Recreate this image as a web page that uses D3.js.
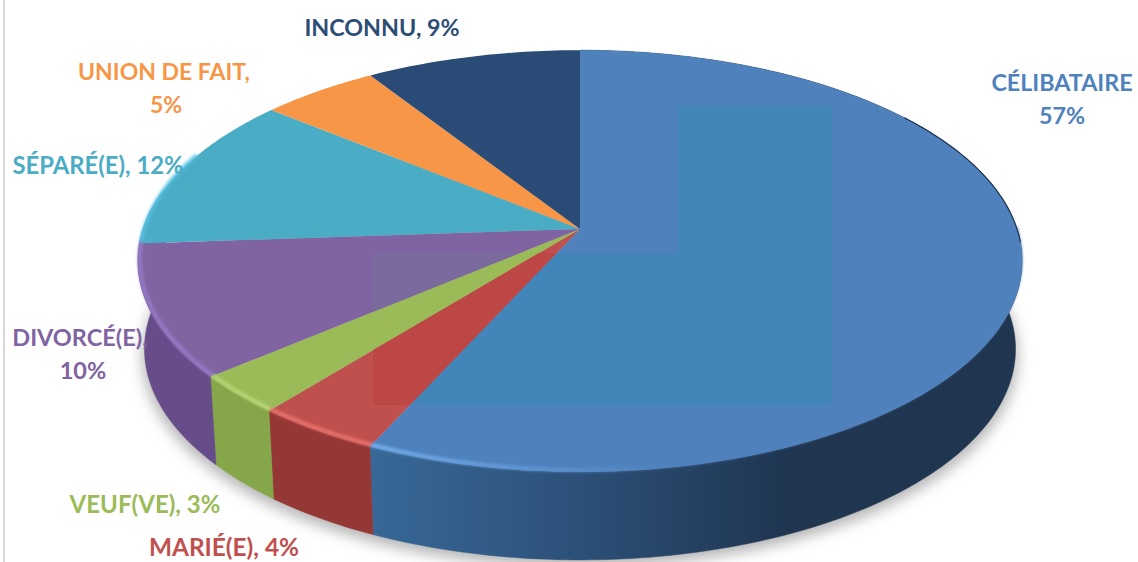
<!DOCTYPE html>
<html>
<head>
<meta charset="utf-8">
<script src="https://cdn.jsdelivr.net/npm/d3@7"></script>
<style>
  html, body { margin: 0; background: #fff; }
  svg { display: block; }
  text { font-family: Lato, "Open Sans", sans-serif; font-weight: 700; font-size: 23.5px; }
</style>
</head>
<body>
<div id="chart"></div>
<script>
// shares, clockwise from 12 o'clock (labels print them rounded)
var categories = ["CÉLIBATAIRE", "MARIÉ(E)", "VEUF(VE)", "DIVORCÉ(E)", "SÉPARÉ(E)", "UNION DE FAIT", "INCONNU"];
var shares = [56.8, 4.0, 3.0, 10.1, 12.0, 5.0, 9.1];

var topColors = ["#4f81bd", "#c0504d", "#9bbb59", "#8064a2", "#4bacc6", "#f79646", "#2a4b76"];
var sideColors = ["#2f5a8c", "#953735", "#86a64a", "#664d8a", "#3a8ca3", "#c87530", "#203a5c"];
var lipColors = ["#6fa8ea", "#ee7470", "#b9d977", "#977ccb", "#52c0e0", "#ffa860", "#2a4b76"];
var labelColors = ["#4f81bd", "#c0504d", "#9bbb59", "#8064a2", "#4bacc6", "#f79646", "#2c4d75"];

var width = 1138, height = 562;

// label layout, one line per row
var labels = [
  {i: 0, x: 1062, y: 91, size: 23.3, lines: ["CÉLIBATAIRE", "57%"]},
  {i: 1, x: 224, y: 556, size: 24.4, lines: ["MARIÉ(E), 4%"]},
  {i: 2, x: 145, y: 513, size: 24, lines: ["VEUF(VE), 3%"]},
  {i: 3, x: 80, y: 346, size: 23.5, lines: ["DIVORCÉ(E),", "10%"]},
  {i: 4, x: 98, y: 174, size: 23.8, lines: ["SÉPARÉ(E), 12%"]},
  {i: 5, x: 164, y: 80, size: 23, lines: ["UNION DE FAIT,", "5%"]},
  {i: 6, x: 382, y: 36, size: 23.3, lines: ["INCONNU, 9%"]}
];

var svg = d3.select("#chart").append("svg")
  .attr("width", width)
  .attr("height", height);

var defs = svg.append("defs");

// perspective of the disc: apex sits above the middle of the ellipse
var cx = 580, cy = 229, rx = 437, ry = 206, k = 0.152, depth = 88;

function project(a, scale, dy) {
  var u = Math.sin(a), v = -Math.cos(a);
  var w = 1 - k * v;
  return [cx + scale * rx * u / w, cy + dy + ry * v / w];
}

function arcPoints(a0, a1, scale, dy) {
  var n = Math.max(2, Math.ceil((a1 - a0) * 60));
  return d3.range(n + 1).map(function(i) {
    return project(a0 + (a1 - a0) * i / n, scale, dy);
  });
}

var line = d3.line();
var arcs = d3.pie().sort(null).value(function(d) { return d; })(shares);

function topPath(d) {
  return line([[cx, cy]].concat(arcPoints(d.startAngle, d.endAngle, 1, 0))) + "Z";
}
function sidePath(d) {
  var a1 = d.index == 3 ? Math.PI * 1.56 : d.endAngle; // purple wall runs round the left end
  var upper = arcPoints(d.startAngle, a1, 1, 0);
  var lower = arcPoints(d.startAngle, a1, 0.985, depth).reverse();
  return line(upper.concat(lower)) + "Z";
}
function lipPoints(d) {
  // keep only the front part of the rim
  var a0 = Math.max(d.startAngle, Math.PI * 0.5);
  var a1 = Math.min(d.endAngle, Math.PI * 1.62);
  if (a1 <= a0) return null;
  return line(arcPoints(a0, a1, 0.996, -2));
}

defs.append("filter").attr("id", "soft")
  .attr("x", "-10%").attr("y", "-10%").attr("width", "120%").attr("height", "120%")
  .append("feGaussianBlur").attr("stdDeviation", 7);
defs.append("filter").attr("id", "lipBlur")
  .attr("x", "-10%").attr("y", "-10%").attr("width", "120%").attr("height", "120%")
  .append("feGaussianBlur").attr("stdDeviation", 1.6);

// blue wall darkens toward the right
var wall = defs.append("linearGradient").attr("id", "blueWall")
  .attr("gradientUnits", "userSpaceOnUse")
  .attr("x1", 370).attr("x2", 790).attr("y1", 0).attr("y2", 0);
wall.append("stop").attr("offset", 0).attr("stop-color", "#386897");
wall.append("stop").attr("offset", 0.5).attr("stop-color", "#2c5078");
wall.append("stop").attr("offset", 1).attr("stop-color", "#1f3550");

var lipFade = defs.append("linearGradient").attr("id", "blueLip")
  .attr("gradientUnits", "userSpaceOnUse")
  .attr("x1", 370).attr("x2", 660).attr("y1", 0).attr("y2", 0);
lipFade.append("stop").attr("offset", 0).attr("stop-color", "#79b4f5");
lipFade.append("stop").attr("offset", 1).attr("stop-color", "#4f81bd");

// frame line on the left of the picture
svg.append("line")
  .attr("x1", 4).attr("x2", 4).attr("y1", 0).attr("y2", height)
  .attr("stroke", "#d9d9d9").attr("stroke-width", 2);

// ground shadow
svg.append("path")
  .attr("d", line(arcPoints(0, Math.PI * 2, 0.99, depth + 7)) + "Z")
  .attr("fill", "#b5b5b5")
  .attr("filter", "url(#soft)");

// walls, only the slices that face the viewer
svg.append("g").selectAll("path")
  .data(arcs.filter(function(d) { return d.index <= 3; }))
  .enter().append("path")
  .attr("d", sidePath)
  .attr("fill", function(d) { return d.index == 0 ? "url(#blueWall)" : sideColors[d.index]; })
  .attr("stroke", function(d) { return d.index == 0 ? "url(#blueWall)" : sideColors[d.index]; })
  .attr("stroke-width", 0.5);

// top face
svg.append("g").selectAll("path")
  .data(arcs)
  .enter().append("path")
  .attr("d", topPath)
  .attr("fill", function(d, i) { return topColors[i]; });

// clip per slice for the rim light and the compression blocks of the source
var clips = defs.selectAll("clipPath").data(arcs).enter().append("clipPath")
  .attr("id", function(d, i) { return "slice" + i; });
clips.append("path").attr("d", topPath);

var blocks = [
  {slice: 0, x: 678, y: 105, w: 154, h: 300, fill: "#4285b8"},
  {slice: 0, x: 373, y: 253, w: 459, h: 152, fill: "#4285b8"},
  {slice: 1, x: 373, y: 253, w: 200, h: 152, fill: "#bd4744"},
  {slice: 3, x: 373, y: 253, w: 200, h: 152, fill: "#7a6a9e"}
];
svg.append("g").selectAll("rect")
  .data(blocks)
  .enter().append("rect")
  .attr("x", function(d) { return d.x; })
  .attr("y", function(d) { return d.y; })
  .attr("width", function(d) { return d.w; })
  .attr("height", function(d) { return d.h; })
  .attr("fill", function(d) { return d.fill; })
  .attr("clip-path", function(d) { return "url(#slice" + d.slice + ")"; });

// rim light along the front edge
svg.append("g").selectAll("path")
  .data(arcs)
  .enter().append("path")
  .attr("d", lipPoints)
  .attr("fill", "none")
  .attr("stroke", function(d, i) { return i == 0 ? "url(#blueLip)" : lipColors[i]; })
  .attr("stroke-width", 3.5)
  .attr("filter", "url(#lipBlur)");

// thin dark edge on the far right of the disc
svg.append("path")
  .attr("d", line(arcPoints(Math.PI * 0.3, Math.PI * 0.52, 1, 0)))
  .attr("fill", "none")
  .attr("stroke", "#1f3550")
  .attr("stroke-width", 1.2);

// labels
var label = svg.append("g").selectAll("text")
  .data(labels)
  .enter().append("text")
  .attr("text-anchor", "middle")
  .style("font-size", function(d) { return d.size + "px"; })
  .attr("fill", function(d) { return labelColors[d.i]; });

label.selectAll("tspan")
  .data(function(d) { return d.lines.map(function(t, j) { return {t: t, j: j, x: d.x, y: d.y}; }); })
  .enter().append("tspan")
  .attr("x", function(d) { return d.x + (d.t == "5%" ? 2 : 0) + (d.t == "10%" ? 3 : 0); })
  .attr("y", function(d) { return d.y + d.j * 33; })
  .text(function(d) { return d.t; });
</script>
</body>
</html>
